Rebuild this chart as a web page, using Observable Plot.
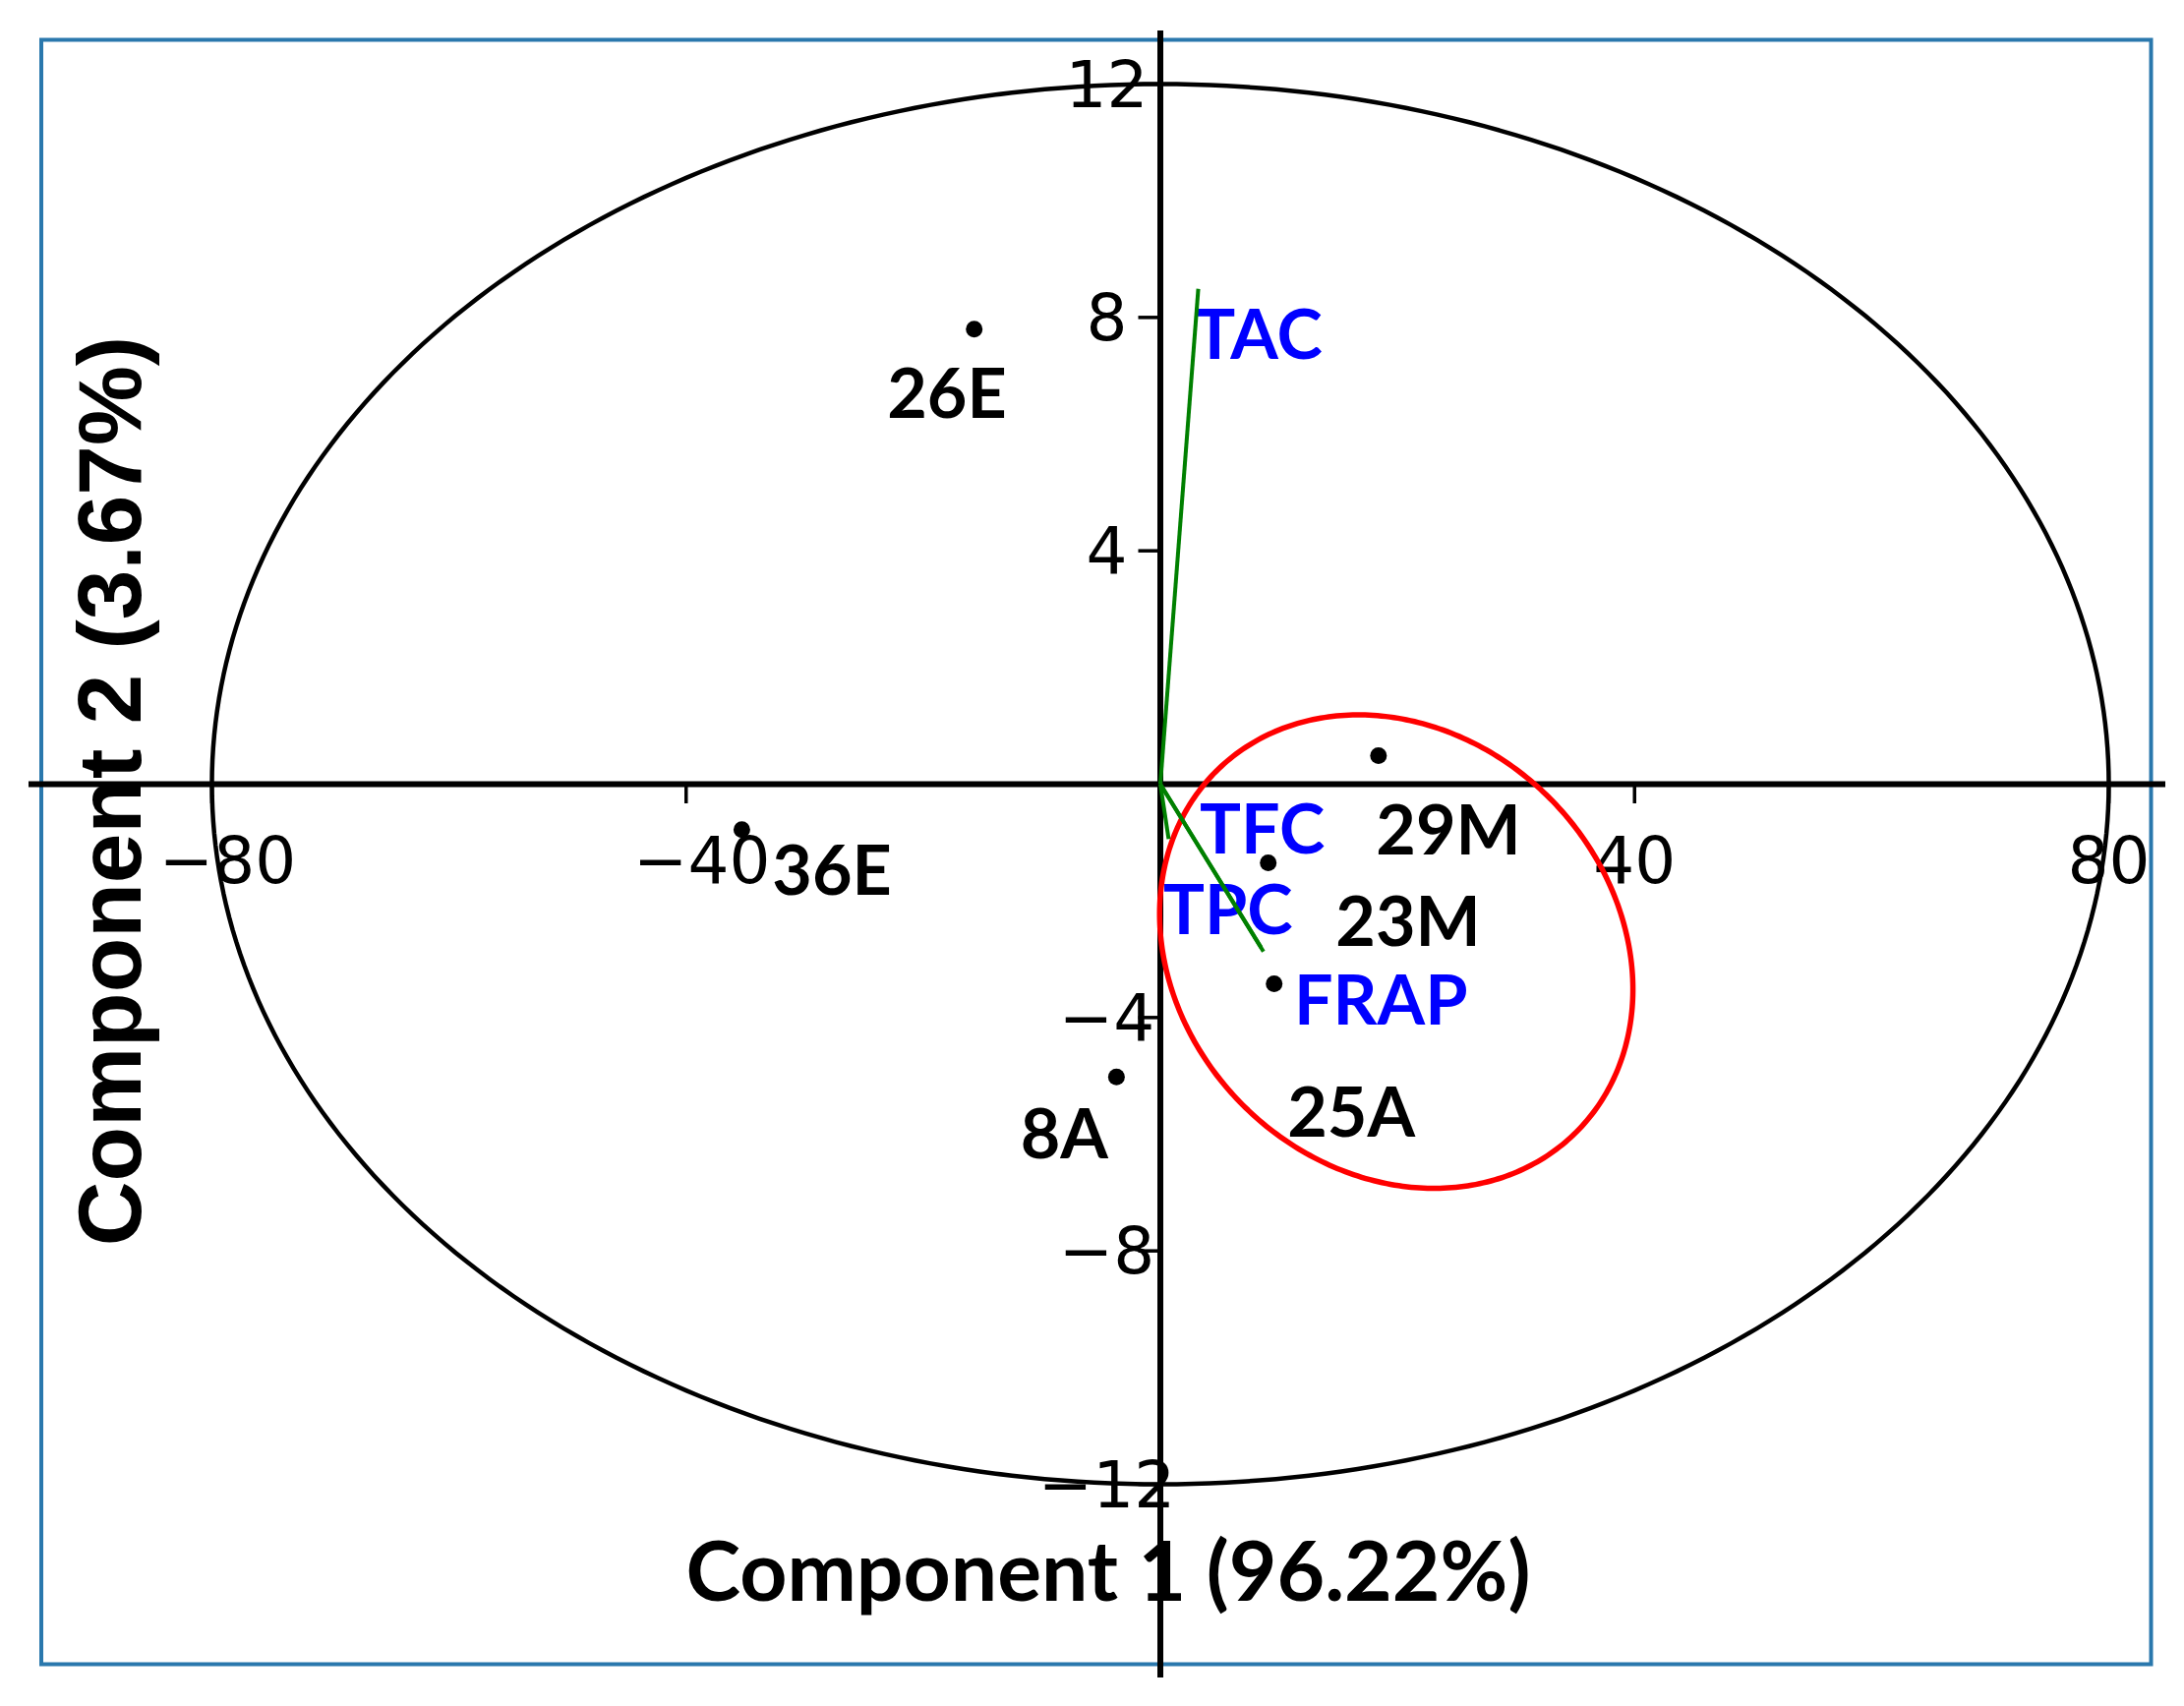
<!DOCTYPE html>
<html>
<head>
<meta charset="utf-8">
<script src="https://cdn.jsdelivr.net/npm/d3@7"></script>
<script src="https://cdn.jsdelivr.net/npm/@observablehq/plot@0.6"></script>
<style>
  html, body { margin: 0; padding: 0; background: #ffffff; }
  #chart svg { display: block; }
</style>
</head>
<body>
<div id="chart"></div>
<script>
// ---- data ----
const sampleNames  = ["26E", "36E", "29M", "23M", "25A", "8A"];
const sampleX      = [-15.7, -35.3, 18.4, 9.1, 9.6, -3.7];
const sampleY      = [7.80, -0.78, 0.49, -1.35, -3.42, -5.02];
const sampleLabelX = [-18.0, -27.7, 24.3, 20.9, 16.1, -8.1];
const sampleLabelY = [6.66, -1.52, -0.83, -2.40, -5.66, -6.03];

const loadingNames  = ["TAC", "TFC", "TPC", "FRAP"];
const loadingX      = [3.2, 0.7, 8.7, 8.5];
const loadingY      = [8.49, -0.94, -2.87, -2.80];
const loadingLabelX = [8.25, 8.6, 5.7, 18.6];
const loadingLabelY = [7.67, -0.81, -2.19, -3.75];

const xTicks = [-80, -40, 40, 80];
const yTicks = [12, 8, 4, -4, -8, -12];

const outerRadii   = [80, 12];          // black ellipse semi-axes (x, y)
const groupCenter  = [19.9, -2.87];     // red ellipse centre
const groupAxisU   = [15.2, -3.09];     // red ellipse conjugate semi-axis 1
const groupAxisV   = [12.94, 2.63];     // red ellipse conjugate semi-axis 2

const xTitle = "Component 1 (96.22%)";
const yTitle = "Component 2 (3.67%)";

// ---- derived tables ----
const samples  = sampleNames.map((n, i) => ({name: n, x: sampleX[i], y: sampleY[i], lx: sampleLabelX[i], ly: sampleLabelY[i]}));
const loadings = loadingNames.map((n, i) => ({name: n, x: loadingX[i], y: loadingY[i], lx: loadingLabelX[i], ly: loadingLabelY[i]}));
const angles = d3.range(0, 361).map(d => d * Math.PI / 180);
const outerEllipse = angles.map(t => ({x: outerRadii[0] * Math.cos(t), y: outerRadii[1] * Math.sin(t)}));
const groupEllipse = angles.map(t => ({
  x: groupCenter[0] + groupAxisU[0] * Math.cos(t) + groupAxisV[0] * Math.sin(t),
  y: groupCenter[1] + groupAxisU[1] * Math.cos(t) + groupAxisV[1] * Math.sin(t)
}));
const fmt = d => d < 0 ? "\u2212" + Math.abs(d) : String(d);

const tickFont = "DejaVu Sans";
const labelFont = "Lato";

const chart = Plot.plot({
  width: 2221,
  height: 1735,
  marginLeft: 215,
  marginRight: 77,
  marginTop: 85,
  marginBottom: 226,
  x: {domain: [-80, 80], axis: null},
  y: {domain: [-12, 12], axis: null},
  style: {background: "#ffffff", overflow: "visible"},
  marks: [
    Plot.frame({stroke: "#2a78ad", strokeWidth: 4, insetLeft: -173.5, insetTop: -45, insetRight: -43, insetBottom: -183}),
    Plot.line(outerEllipse, {x: "x", y: "y", stroke: "black", strokeWidth: 4.5}),
    Plot.ruleY([0], {stroke: "black", strokeWidth: 6, insetLeft: -186, insetRight: -58}),
    Plot.ruleX([0], {stroke: "black", strokeWidth: 6, insetTop: -54, insetBottom: -197}),
    Plot.ruleX(xTicks, {x: d => d, y1: 0, y2: 0, insetBottom: -20, stroke: "black", strokeWidth: 3.5}),
    Plot.ruleY(yTicks, {y: d => d, x1: 0, x2: 0, insetLeft: -22, stroke: "black", strokeWidth: 3.5}),
    Plot.text(xTicks, {filter: d => d < 0, x: d => d, y: 0, text: fmt, dx: 16, dy: 79, fontFamily: tickFont, fontSize: 66, fill: "black"}),
    Plot.text(xTicks, {filter: d => d > 0, x: d => d, y: 0, text: fmt, dx: 0, dy: 79, fontFamily: tickFont, fontSize: 66, fill: "black"}),
    Plot.text(yTicks, {x: 0, y: d => d, text: fmt, dx: -54.5, dy: 2, textAnchor: "middle", fontFamily: tickFont, fontSize: 66, fill: "black"}),
    Plot.line(groupEllipse, {x: "x", y: "y", stroke: "#ff0000", strokeWidth: 5.5}),
    Plot.text(samples, {x: "lx", y: "ly", text: "name", fontFamily: labelFont, fontWeight: "bold", fontSize: 70, fill: "black"}),
    Plot.text(loadings, {x: "lx", y: "ly", text: "name", fontFamily: labelFont, fontWeight: "bold", fontSize: 70, fill: "#0000ff"}),
    Plot.link(loadings, {x1: 0, y1: 0, x2: "x", y2: "y", stroke: "#008000", strokeWidth: 4}),
    Plot.dot(samples, {x: "x", y: "y", r: 8.5, fill: "black", stroke: "none"}),
    Plot.text([xTitle], {text: d => d, frameAnchor: "bottom", lineAnchor: "middle", dx: -53, dy: 92, fontFamily: labelFont, fontWeight: "bold", fontSize: 84, fill: "black"}),
    Plot.text([yTitle], {text: d => d, frameAnchor: "left", lineAnchor: "middle", textAnchor: "middle", rotate: -90, dx: -102, dy: 7, fontFamily: "Liberation Sans", fontWeight: "bold", fontSize: 91, fill: "black"})
  ]
});
document.getElementById("chart").appendChild(chart);
</script>
</body>
</html>
